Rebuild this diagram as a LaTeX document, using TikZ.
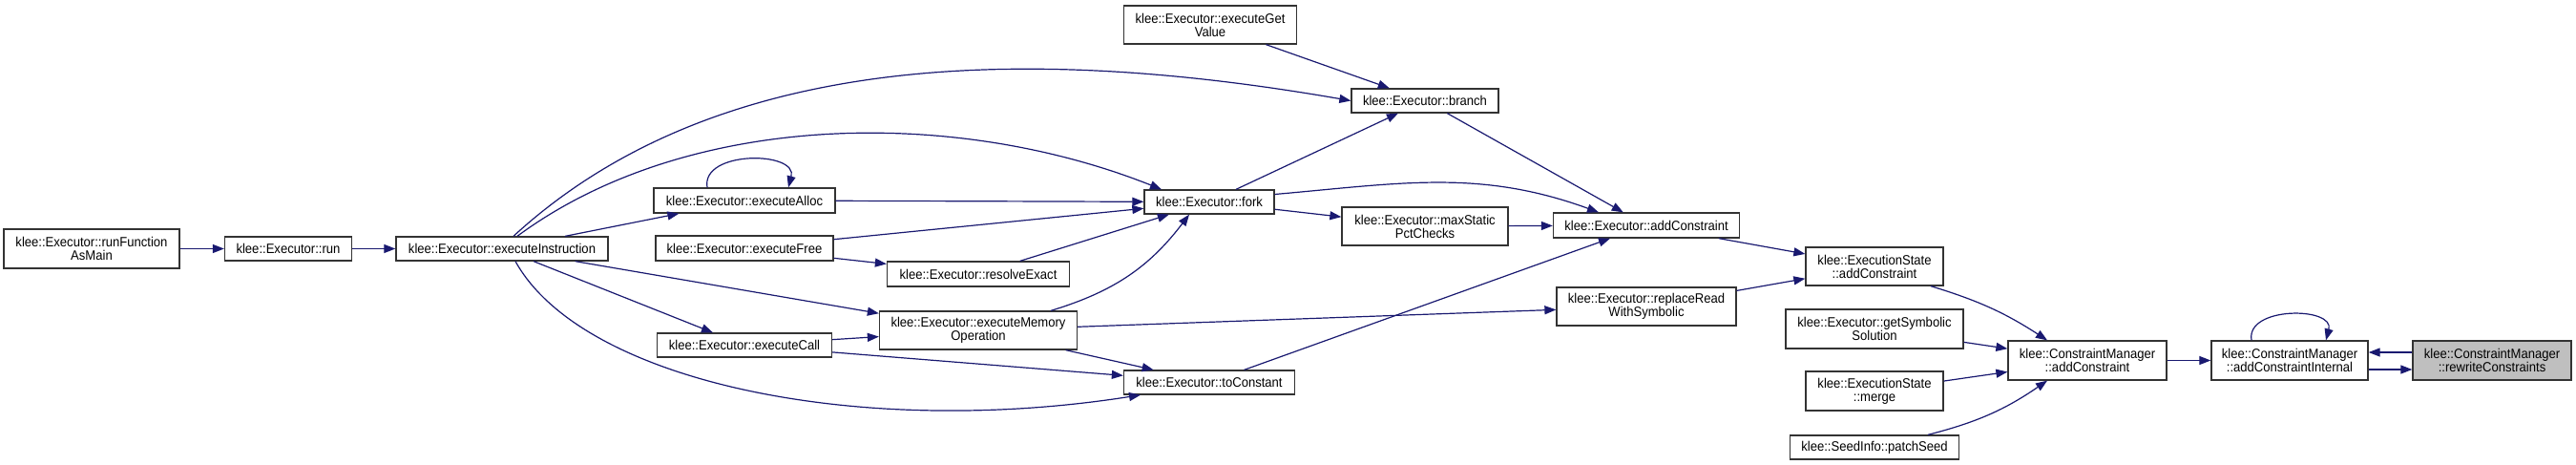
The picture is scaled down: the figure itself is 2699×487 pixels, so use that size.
\documentclass[tikz,border=0pt]{standalone}
\usepackage{fontspec}
\setmainfont[FakeStretch=0.92]{Liberation Sans}
\usepackage{xcolor}
\usetikzlibrary{arrows.meta}

\definecolor{edgeblue}{HTML}{191970}

\begin{document}
\begin{tikzpicture}[
  x=1pt,y=-1pt,
  font=\fontsize{14.2}{14}\selectfont,
  sz/.style 2 args={minimum width=#1pt,minimum height=#2pt},
  fn/.style={draw=black!80,line width=1.3pt,fill=white,inner sep=2pt,align=center},
  fnroot/.style={fn,fill=gray!50},
  call/.style={-{Triangle[length=12pt,width=9pt]},draw=edgeblue,line width=1.2pt}
]
\useasboundingbox (0,0) rectangle (2699,487);

%%%%%%%%%%%%%%%%%%%%%%%%%%%%%%%%%%%%%%%%%%%%%%%%%%%%
% Executor nodes (left part)
%%%%%%%%%%%%%%%%%%%%%%%%%%%%%%%%%%%%%%%%%%%%%%%%%%%%
\node[fn,sz={184}{41}] (runmain) at (96,260.5) {klee::Executor::runFunction\\AsMain};
\node[fn,sz={133}{25}] (run) at (302,260.5) {klee::Executor::run};
\node[fn,sz={222}{25}] (execinstr) at (526,260.5) {klee::Executor::executeInstruction};

\node[fn,sz={190}{26}] (execalloc) at (780,210) {klee::Executor::executeAlloc};
\node[fn,sz={186}{26}] (execfree) at (780,260) {klee::Executor::executeFree};
\node[fn,sz={183}{25}] (execcall) at (780,361.5) {klee::Executor::executeCall};

\node[fn,sz={191}{26}] (resolve) at (1025,287) {klee::Executor::resolveExact};
\node[fn,sz={207}{40}] (memop) at (1025,346) {klee::Executor::executeMemory\\Operation};

\node[fn,sz={181}{40}] (getvalue) at (1268,26) {klee::Executor::executeGet\\Value};
\node[fn,sz={136}{25}] (fork) at (1267,211.5) {klee::Executor::fork};
\node[fn,sz={179}{25}] (toconst) at (1267,400.5) {klee::Executor::toConstant};

\node[fn,sz={154}{25}] (branch) at (1493,105.5) {klee::Executor::branch};
\node[fn,sz={174}{40}] (maxstatic) at (1493,237) {klee::Executor::maxStatic\\PctChecks};

\node[fn,sz={195}{26}] (addcons) at (1725,236) {klee::Executor::addConstraint};
\node[fn,sz={188}{40}] (replread) at (1725,321) {klee::Executor::replaceRead\\WithSymbolic};

%%%%%%%%%%%%%%%%%%%%%%%%%%%%%%%%%%%%%%%%%%%%%%%%%%%%
% State / constraint manager nodes (right part)
%%%%%%%%%%%%%%%%%%%%%%%%%%%%%%%%%%%%%%%%%%%%%%%%%%%%
\node[fn,sz={144}{40}] (esadd) at (1964,279) {klee::ExecutionState\\::addConstraint};
\node[fn,sz={186}{41}] (getsym) at (1964,344.5) {klee::Executor::getSymbolic\\Solution};
\node[fn,sz={144}{41}] (esmerge) at (1964,409.5) {klee::ExecutionState\\::merge};
\node[fn,sz={177}{25}] (patchseed) at (1964,468.5) {klee::SeedInfo::patchSeed};

\node[fn,sz={166}{41}] (cmadd) at (2187,377.5) {klee::ConstraintManager\\::addConstraint};
\node[fn,sz={164}{41}] (cminternal) at (2399,377.5) {klee::ConstraintManager\\::addConstraintInternal};
\node[fnroot,sz={166}{41}] (rewrite) at (2611,377.5) {klee::ConstraintManager\\::rewriteConstraints};

%%%%%%%%%%%%%%%%%%%%%%%%%%%%%%%%%%%%%%%%%%%%%%%%%%%%
% Calls
%%%%%%%%%%%%%%%%%%%%%%%%%%%%%%%%%%%%%%%%%%%%%%%%%%%%
\draw[call] (runmain) -- (run);
\draw[call] (run) -- (execinstr);

\draw[call] (execinstr) -- (execalloc);
\draw[call] (execinstr) -- (execcall);
\draw[call] (execinstr) -- (memop);
\draw[call] ([xshift=12pt]execinstr.north) .. controls (740,62) and (1050,42) .. (branch.west);
\draw[call] ([xshift=16pt]execinstr.north) .. controls (720,116) and (1000,112) .. ([xshift=-50pt]fork.north);
\draw[call] ([xshift=14pt]execinstr.south) .. controls (610,400) and (900,460) .. ([xshift=-72pt]toconst.south);

\draw[call] ([xshift=-39pt]execalloc.north) to[out=100,in=75,looseness=1.2] ([xshift=46pt]execalloc.north);
\draw[call] (execalloc) -- (fork);
\draw[call] (execfree) -- (fork);
\draw[call] (execfree) -- (resolve);
\draw[call] (execcall) -- (memop);
\draw[call] (execcall) -- (toconst);

\draw[call] (resolve) -- (fork);
\draw[call] ([xshift=76pt]memop.north) to[bend right=18] ([xshift=-21pt]fork.south);
\draw[call] (memop) -- (replread);
\draw[call] (memop) -- (toconst);

\draw[call] (getvalue) -- (branch);
\draw[call] (fork) -- (branch);
\draw[call] ([yshift=8pt]fork.east) to[out=5,in=160] ([xshift=-50pt]addcons.north);
\draw[call] (fork) -- (maxstatic);
\draw[call] (toconst) -- (addcons);

\draw[call] (branch) -- (addcons);
\draw[call] (maxstatic) -- (addcons);

\draw[call] (addcons) -- (esadd);
\draw[call] (replread) -- (esadd);

\draw[call] ([xshift=59pt]esadd.south) to[bend left=8] ([xshift=-42pt]cmadd.north);
\draw[call] (getsym) -- (cmadd);
\draw[call] (esmerge) -- (cmadd);
\draw[call] ([xshift=56pt]patchseed.north) to[bend right=10] ([xshift=-42pt]cmadd.south);

\draw[call] (cmadd) -- (cminternal);
\draw[call] ([xshift=-40pt]cminternal.north) to[out=100,in=75,looseness=1.2] ([xshift=38pt]cminternal.north);
\draw[call] ([yshift=8.5pt]rewrite.west) -- ([yshift=8.5pt]cminternal.east);
\draw[call] ([yshift=-9.5pt]cminternal.east) -- ([yshift=-9.5pt]rewrite.west);

\end{tikzpicture}
\end{document}
